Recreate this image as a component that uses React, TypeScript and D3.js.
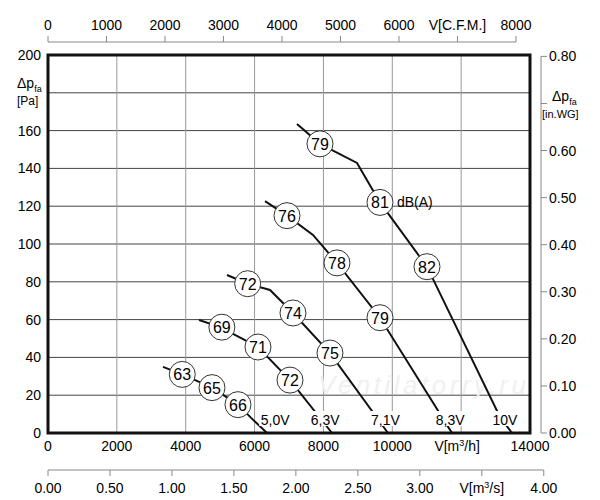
import * as d3 from "d3";

const volts = ["5,0V", "6,3V", "7,1V", "8,3V", "10V"];
const curves: [number, number][][] = [
  [[3340, 35], [3900, 31], [4763, 24], [5518, 15], [5900, 8], [6361, 0]],
  [[4386, 59.8], [5000, 56], [6099, 45.5], [7029, 28], [8249, 0]],
  [[5199, 83.6], [5800, 79], [6448, 75.7], [7116, 63.5], [8190, 42.3], [9875, 0]],
  [[6303, 122.7], [6942, 115], [7697, 104.8], [8394, 90], [9643, 61], [11734, 0]],
  [[7232, 163.5], [7900, 153], [8975, 142.9], [9643, 122], [11008, 88], [13128, 8.5], [13477, 0]],
];
const dbLabels: [number, number, string][] = [
  [3900, 31, "63"], [4763, 24, "65"], [5518, 15, "66"],
  [5050, 56, "69"], [6099, 45.5, "71"], [7029, 28, "72"],
  [5800, 79, "72"], [7116, 63.5, "74"], [8190, 42.3, "75"],
  [6942, 115, "76"], [8394, 90, "78"], [9643, 61, "79"],
  [7900, 153, "79"], [9643, 122, "81"], [11008, 88, "82"],
];
const voltPos = [6600, 8050, 9800, 11680, 13270];
const paTicks = d3.range(0, 201, 20);
const flowTicks = d3.range(0, 14001, 2000);
const cfmTicks = d3.range(0, 8001, 1000);
const wgTicks = d3.range(0, 0.81, 0.1);
const m3sTicks = d3.range(0, 4.01, 0.5);

export default function App() {
  const x = d3.scaleLinear().domain([0, 14000]).range([48, 530]);
  const y = d3.scaleLinear().domain([0, 200]).range([433, 55]);
  const xc = (c: number) => x(c * 1.699);
  const xs = (s: number) => x(s * 3600);
  const yw = (w: number) => y(w * 249.09);
  const line = d3.line<[number, number]>().x((d) => x(d[0])).y((d) => y(d[1]));
  const f = { fontFamily: "Arial, Liberation Sans, sans-serif", fontSize: 14 };
  return (
    <svg width={600} height={500} style={{ position: "absolute", left: 0, top: 0 }}>
      <rect width={600} height={500} fill="#fff" />
      <g {...f}>
        {paTicks.map((t) => (
          <line key={"h" + t} x1={48} x2={530} y1={y(t)} y2={y(t)} stroke="#444" strokeWidth={1} />
        ))}
        {flowTicks.map((t) => (
          <line key={"v" + t} x1={x(t)} x2={x(t)} y1={55} y2={433} stroke="#999" strokeWidth={1} />
        ))}
        <rect x={48} y={55} width={482} height={378} fill="none" stroke="#111" strokeWidth={3} />
        <text x={318} y={394} fontSize={26} fontStyle="italic" fill="#f0f0f0" textLength={208}>Ventilatorry.ru</text>
        {paTicks.filter((t) => t !== 180).map((t) => (
          <text key={"pa" + t} x={41} y={y(t) + 5} textAnchor="end">{t}</text>
        ))}
        <text x={17} y={88}>Δp<tspan fontSize={9} dy={4}>fa</tspan></text>
        <text x={17} y={105} fontSize={12}>[Pa]</text>
        {flowTicks.map((t) => t === 12000 ? null : (
          <text key={"f" + t} x={x(t)} y={451} textAnchor="middle">{t}</text>
        ))}
        <text x={x(12000) - 4} y={451} textAnchor="middle">V[m<tspan fontSize={9} dy={-5}>3</tspan><tspan dy={5}>/h]</tspan></text>
        <line x1={xc(0)} x2={xc(8000)} y1={42} y2={42} stroke="#888" />
        {cfmTicks.map((t) => (
          <g key={"c" + t}>
            <line x1={xc(t)} x2={xc(t)} y1={42} y2={36} stroke="#888" />
            <text x={xc(t)} y={30} textAnchor="middle">{t === 7000 ? "V[C.F.M.]" : t}</text>
          </g>
        ))}
        <line x1={xs(0)} x2={xs(4)} y1={470} y2={470} stroke="#888" />
        {m3sTicks.map((t) => (
          <g key={"s" + t}>
            <line x1={xs(t)} x2={xs(t)} y1={470} y2={476} stroke="#888" />
            {t === 3.5 ? (
              <text x={xs(t)} y={493} textAnchor="middle">V[m<tspan fontSize={9} dy={-5}>3</tspan><tspan dy={5}>/s]</tspan></text>
            ) : (
              <text x={xs(t)} y={493} textAnchor="middle">{t.toFixed(2)}</text>
            )}
          </g>
        ))}
        <line x1={541} x2={541} y1={yw(0)} y2={yw(0.8)} stroke="#888" />
        {wgTicks.map((t) => (
          <g key={"w" + t}>
            <line x1={541} x2={547} y1={yw(t)} y2={yw(t)} stroke="#888" />
            {Math.abs(t - 0.7) > 0.01 && (
              <text x={549} y={yw(t) + 5}>{t.toFixed(2)}</text>
            )}
          </g>
        ))}
        <text x={552} y={101}>Δp<tspan fontSize={9} dy={4}>fa</tspan></text>
        <text x={542} y={118} fontSize={11}>[in.WG]</text>
        {curves.map((c, i) => (
          <path key={"c" + i} d={line(c) ?? ""} fill="none" stroke="#111" strokeWidth={2} />
        ))}
        {dbLabels.map(([a, b, s], i) => (
          <g key={"d" + i}>
            <circle cx={x(a)} cy={y(b)} r={13} fill="#fff" stroke="#333" />
            <text x={x(a)} y={y(b) + 6} textAnchor="middle" fontSize={16}>{s}</text>
          </g>
        ))}
        <text x={x(9643) + 17} y={y(122) + 5}>dB(A)</text>
        {volts.map((v, i) => (
          <g key={v}>
            <rect x={x(voltPos[i]) - 16} y={411} width={32} height={15} fill="#fff" />
            <text x={x(voltPos[i])} y={425} textAnchor="middle">{v}</text>
          </g>
        ))}
      </g>
    </svg>
  );
}
